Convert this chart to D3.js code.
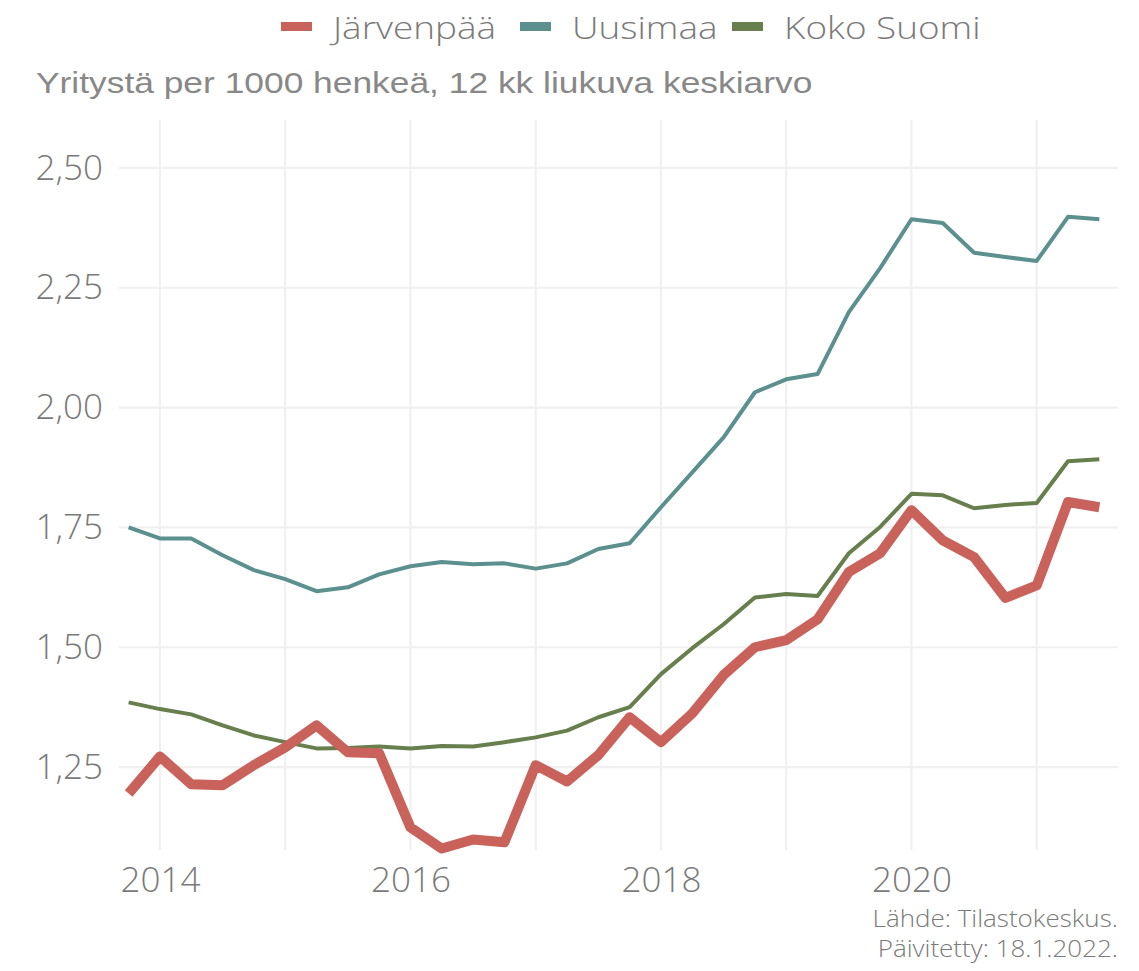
<!DOCTYPE html>
<html>
<head>
<meta charset="utf-8">
<script src="https://cdn.jsdelivr.net/npm/d3@7"></script>
<style>
  body { margin: 0; background: #fff; }
  svg { display: block; }
  .grid line { stroke: #f0f0f0; stroke-width: 2.2; }
  .tick-label { font-family: "Open Sans", sans-serif; font-weight: 300; fill: #7a7a7a; }
</style>
</head>
<body>
<div id="chart"></div>
<script>
// quarters (12 kk liukuva keskiarvo)
const quarters = [
  '2013Q4','2014Q1','2014Q2','2014Q3','2014Q4','2015Q1','2015Q2','2015Q3','2015Q4',
  '2016Q1','2016Q2','2016Q3','2016Q4','2017Q1','2017Q2','2017Q3','2017Q4',
  '2018Q1','2018Q2','2018Q3','2018Q4','2019Q1','2019Q2','2019Q3','2019Q4',
  '2020Q1','2020Q2','2020Q3','2020Q4','2021Q1','2021Q2','2021Q3'
];

const jarvenpaa = [
  1.195, 1.272, 1.214, 1.212, 1.254, 1.291, 1.337, 1.281, 1.279,
  1.124, 1.080, 1.099, 1.093, 1.254, 1.220, 1.275, 1.354,
  1.302, 1.362, 1.442, 1.500, 1.515, 1.558, 1.657, 1.696,
  1.786, 1.723, 1.688, 1.603, 1.629, 1.803, 1.792
];

const uusimaa = [
  1.750, 1.727, 1.727, 1.692, 1.661, 1.642, 1.617, 1.625, 1.652,
  1.669, 1.678, 1.673, 1.675, 1.664, 1.675, 1.705, 1.717,
  1.792, 1.865, 1.938, 2.032, 2.059, 2.070, 2.199, 2.291,
  2.393, 2.385, 2.323, 2.314, 2.306, 2.398, 2.393
];

const kokoSuomi = [
  1.385, 1.371, 1.360, 1.337, 1.316, 1.302, 1.289, 1.290, 1.293,
  1.289, 1.294, 1.293, 1.302, 1.312, 1.326, 1.354, 1.375,
  1.444, 1.498, 1.548, 1.604, 1.611, 1.607, 1.696, 1.751,
  1.820, 1.817, 1.790, 1.797, 1.801, 1.888, 1.892
];

const seriesNames = ['Järvenpää', 'Uusimaa', 'Koko Suomi'];
const seriesColors = ['#c9625a', '#5b908e', '#677e4d'];
const seriesWidths = [10, 4, 4];

const yTicks = [1.25, 1.50, 1.75, 2.00, 2.25, 2.50];
const xTicks = [2014, 2016, 2018, 2020];
const xGrid = [2014, 2015, 2016, 2017, 2018, 2019, 2020, 2021];

const subtitle = 'Yritystä per 1000 henkeä, 12 kk liukuva keskiarvo';
const captionLines = ['Lähde: Tilastokeskus.', 'Päivitetty: 18.1.2022.'];

// quarter label -> decimal year (quarter start, as in the source chart)
const toYear = q => +q.slice(0, 4) + (+q.slice(5) - 1) * 0.25;

const width = 1139, height = 971;
const plot = {left: 119, right: 1118, top: 120, bottom: 850};

const svg = d3.select('#chart').append('svg')
    .attr('width', width)
    .attr('height', height);

const x = d3.scaleLinear()
    .domain([2013.673, 2021.649])
    .range([plot.left, plot.right]);

const y = d3.scaleLinear()
    .domain([1.077, 2.600])
    .range([plot.bottom, plot.top]);

// grid
const grid = svg.append('g').attr('class', 'grid');
grid.selectAll('.hgrid')
    .data(yTicks)
  .join('line')
    .attr('class', 'hgrid')
    .attr('x1', plot.left).attr('x2', plot.right)
    .attr('y1', d => y(d)).attr('y2', d => y(d));
grid.selectAll('.vgrid')
    .data(xGrid)
  .join('line')
    .attr('class', 'vgrid')
    .attr('y1', plot.top).attr('y2', plot.bottom)
    .attr('x1', d => x(d)).attr('x2', d => x(d));

// axes (labels only, no axis lines)
const yAxis = svg.append('g')
    .attr('transform', `translate(${plot.left},0)`)
    .call(d3.axisLeft(y).tickValues(yTicks).tickSize(0).tickPadding(16)
      .tickFormat(d => d3.format('.2f')(d).replace('.', ',')));
yAxis.select('.domain').remove();
yAxis.selectAll('text')
    .attr('class', 'tick-label')
    .attr('font-size', 35);

const xAxis = svg.append('g')
    .attr('transform', `translate(0,${plot.bottom})`)
    .call(d3.axisBottom(x).tickValues(xTicks).tickSize(0).tickPadding(17)
      .tickFormat(d3.format('d')));
xAxis.select('.domain').remove();
xAxis.selectAll('text')
    .attr('class', 'tick-label')
    .attr('font-size', 35);

// lines
const data = quarters.map((q, i) => ({
  t: toYear(q),
  values: [jarvenpaa[i], uusimaa[i], kokoSuomi[i]]
}));

const line = k => d3.line()
    .x(d => x(d.t))
    .y(d => y(d.values[k]));

// Koko Suomi and Uusimaa first, Järvenpää on top
[2, 1, 0].forEach(k => {
  svg.append('path')
      .datum(data)
      .attr('fill', 'none')
      .attr('stroke', seriesColors[k])
      .attr('stroke-width', seriesWidths[k])
      .attr('stroke-linejoin', 'round')
      .attr('d', line(k));
});

// legend
const legend = svg.append('g').attr('class', 'legend');
const legendX = [281, 520, 732];
seriesNames.forEach((name, k) => {
  legend.append('rect')
      .attr('x', legendX[k])
      .attr('y', 22)
      .attr('width', 31)
      .attr('height', 9)
      .attr('fill', seriesColors[k]);
  legend.append('text')
      .attr('transform', `translate(${legendX[k] + 52},39) scale(1.19,1)`)
      .attr('font-family', '"Open Sans", sans-serif')
      .attr('font-weight', 300)
      .attr('font-size', 31)
      .attr('fill', '#7a7a7a')
      .text(name);
});

// subtitle
svg.append('text')
    .attr('transform', 'translate(36,93) scale(1.22,1)')
    .attr('font-family', '"Liberation Sans", Arial, sans-serif')
    .attr('font-size', 29)
    .attr('fill', '#888888')
    .text(subtitle);

// caption
svg.append('g').selectAll('text')
    .data(captionLines)
  .join('text')
    .attr('transform', (d, i) => `translate(${plot.right},${927 + i * 30}) scale(1.13,1)`)
    .attr('text-anchor', 'end')
    .attr('font-family', '"Open Sans", sans-serif')
    .attr('font-weight', 300)
    .attr('font-size', 23)
    .attr('fill', '#7a7a7a')
    .text(d => d);
</script>
</body>
</html>
